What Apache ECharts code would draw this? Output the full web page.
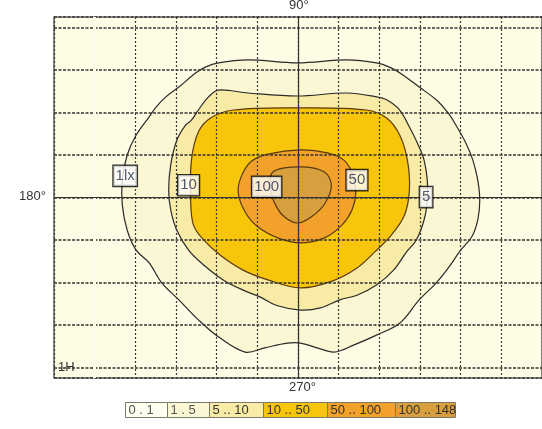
<!DOCTYPE html>
<html>
<head>
<meta charset="utf-8">
<script src="https://cdn.jsdelivr.net/npm/echarts@6/dist/echarts.min.js"></script>
<style>
  html, body { margin: 0; padding: 0; background: #fff; }
  #chart { width: 542px; height: 429px; }
</style>
</head>
<body>
<div id="chart"></div>
<script>
// illuminance classes (legend) and their fills
const levelLabels = ["0 . 1", "1 . 5", "5 .. 10", "10 .. 50", "50 .. 100", "100 .. 148"];
const levelColors = ["#FEFCE4", "#FBF6D4", "#F7EBA6", "#F7C509", "#F2A12A", "#D89F3F"];

// isolux lines, [x, y] in grid units (centre = 0)
const lux1 = [
  [-1.96, 3.17], [-1.23, 3.24], [-0.01, 3.17], [1.20, 3.24], [1.93, 3.17], [2.25, 3.07],
  [2.59, 2.88], [2.98, 2.60], [3.40, 2.30], [3.69, 1.99], [3.88, 1.71], [4.13, 1.28],
  [4.30, 0.88], [4.42, 0.41], [4.47, -0.06], [4.42, -0.53], [4.27, -0.93], [4.00, -1.24],
  [3.71, -1.64], [3.40, -2.01], [2.98, -2.41], [2.50, -2.96], [1.93, -3.24], [1.38, -3.47],
  [0.89, -3.64], [0.47, -3.54], [0.06, -3.43], [-0.26, -3.43], [-0.82, -3.54], [-1.30, -3.64],
  [-1.96, -3.28], [-2.45, -2.88], [-2.93, -2.41], [-3.35, -2.01], [-3.66, -1.54], [-3.98, -1.24],
  [-4.20, -0.77], [-4.32, -0.18], [-4.32, 0.41], [-4.20, 1.00], [-3.98, 1.47], [-3.66, 1.90],
  [-3.49, 2.13], [-3.25, 2.37], [-2.93, 2.60], [-2.52, 2.93], [-2.28, 3.07]
];
const lux5 = [
  [-1.96, 2.53], [-1.23, 2.46], [-0.01, 2.39], [1.20, 2.46], [1.93, 2.37], [2.18, 2.30],
  [2.50, 2.06], [2.74, 1.66], [2.98, 1.19], [3.10, 0.88], [3.18, 0.41], [3.18, -0.06],
  [3.10, -0.53], [2.91, -1.00], [2.67, -1.28], [2.35, -1.71], [1.93, -2.06], [1.45, -2.30],
  [1.03, -2.41], [0.55, -2.60], [0.06, -2.65], [-0.50, -2.55], [-0.94, -2.34], [-1.35, -2.18],
  [-1.84, -1.94], [-2.32, -1.59], [-2.69, -1.24], [-2.98, -0.77], [-3.13, -0.29], [-3.18, 0.18],
  [-3.13, 0.77], [-2.98, 1.35], [-2.76, 1.71], [-2.62, 1.82], [-2.45, 2.06], [-2.20, 2.37]
];
const lux10 = [
  [-2.64, -0.06], [-2.57, -0.65], [-2.32, -1.00], [-1.91, -1.36], [-1.35, -1.71], [-0.74, -1.94],
  [0.06, -2.13], [0.84, -1.97], [1.45, -1.66], [1.89, -1.28], [2.30, -0.88], [2.62, -0.41],
  [2.74, 0.18], [2.69, 0.88], [2.50, 1.47], [2.18, 1.87], [1.69, 2.06], [-0.01, 2.11],
  [-1.59, 2.06], [-2.15, 1.87], [-2.45, 1.54], [-2.62, 0.88]
];
const lux50 = [
  [0.06, 1.12], [0.72, 1.05], [1.13, 0.88], [1.35, 0.53], [1.42, 0.11], [1.33, -0.29],
  [1.08, -0.65], [0.65, -0.95], [0.06, -1.07], [-0.50, -0.95], [-0.99, -0.69], [-1.30, -0.34],
  [-1.47, 0.11], [-1.40, 0.48], [-1.16, 0.84], [-0.74, 1.02]
];
const lux100 = [
  [-0.62, 0.60], [0.06, 0.72], [0.65, 0.60], [0.82, 0.29], [0.67, -0.13], [0.35, -0.44],
  [-0.01, -0.60], [-0.33, -0.46], [-0.55, -0.18], [-0.67, 0.18]
];

// value tags sitting on the lines
const tagPoints = [[-4.25, 0.51], [-2.69, 0.29], [-0.77, 0.25], [1.45, 0.41], [3.15, 0.01]];
const tagTexts = ["1lx", "10", "100", "50", "5"];

const contours = [lux1, lux5, lux10, lux50, lux100];

var chartDom = document.getElementById("chart");
var myChart = echarts.init(chartDom);

function contourSeries(points, idx) {
  return {
    type: "custom",
    z: 2 + idx * 0.01,
    silent: true,
    data: points,
    renderItem: function (params, api) {
      if (params.dataIndex !== 0) return null;
      const pts = points.map(function (p) { return api.coord(p); });
      return {
        type: "polygon",
        shape: { points: pts, smooth: 0.35 },
        style: {
          fill: levelColors[idx + 1],
          stroke: idx < 2 ? "#2a2a2a" : "#5a3a10",
          lineWidth: 1.2
        }
      };
    }
  };
}

// legend boxes under the plot
const legendWidths = [42, 42, 54, 64, 68, 60];
const legendChildren = [];
let lx = 0;
levelLabels.forEach(function (t, i) {
  legendChildren.push({
    type: "rect",
    shape: { x: lx, y: 0, width: legendWidths[i], height: 15 },
    style: { fill: i === 0 ? "#FFFFF2" : levelColors[i], stroke: "#7a7a6a", lineWidth: 1 }
  });
  legendChildren.push({
    type: "text",
    x: lx + 3, y: 8,
    style: {
      text: t, fill: i < 2 ? "#555" : "#333", font: "13px 'Liberation Sans', Arial",
      verticalAlign: "middle"
    }
  });
  lx += legendWidths[i];
});

const labelFont = "13px 'Liberation Sans', Arial";

option = {
  backgroundColor: "#fff",
  animation: false,
  grid: {
    left: 54, right: -5, top: 17, bottom: 51,
    show: true, backgroundColor: levelColors[0],
    borderColor: "#333", borderWidth: 1.2
  },
  xAxis: {
    type: "value", min: -6, max: 6, interval: 1, z: 5,
    axisLine: { onZero: true, lineStyle: { color: "#333", width: 1.2 } },
    axisTick: { show: false }, axisLabel: { show: false },
    splitLine: { show: true, lineStyle: { color: "#3a3a3a", type: [2, 2], width: 1.2 } }
  },
  yAxis: {
    type: "value", min: -4.25, max: 4.25, splitNumber: 8, z: 5,
    axisLine: { onZero: true, lineStyle: { color: "#333", width: 1.2 } },
    axisTick: { show: false }, axisLabel: { show: false },
    splitLine: { show: true, lineStyle: { color: "#333", type: [3, 1.5], width: 1.6 } }
  },
  graphic: [
    { type: "text", left: 289, top: -1, style: { text: "90°", fill: "#333", font: labelFont } },
    { type: "text", left: 289, top: 381, style: { text: "270°", fill: "#333", font: labelFont } },
    { type: "text", left: 19, top: 190, style: { text: "180°", fill: "#333", font: labelFont } },
    { type: "text", left: 58, top: 361, z: 10, style: { text: "1H", fill: "#333", font: labelFont } },
    { type: "group", left: 125, top: 402, children: legendChildren }
  ],
  series: contours.map(contourSeries).concat([
    {
      // the grid line one step in from the left border is washed out in the original
      type: "line",
      z: 6,
      data: [],
      silent: true,
      markLine: {
        symbol: "none",
        label: { show: false },
        lineStyle: { color: "#FDFBEA", type: "solid", width: 3 },
        data: [{ xAxis: -5 }]
      }
    },
    {
      type: "scatter",
      z: 10,
      symbolSize: 1,
      itemStyle: { color: "rgba(0,0,0,0)" },
      data: tagPoints.map(function (p, i) { return [p[0], p[1], tagTexts[i]]; }),
      label: {
        show: true,
        position: "inside",
        formatter: function (p) { return p.value[2]; },
        color: "#22304d",
        fontSize: 15,
        fontFamily: "'Liberation Sans', Arial",
        backgroundColor: "#fff",
        borderColor: "#000",
        borderWidth: 1.3,
        padding: [3, 2, 2, 2]
      }
    }
  ])
};

option && myChart.setOption(option);
</script>
</body>
</html>
